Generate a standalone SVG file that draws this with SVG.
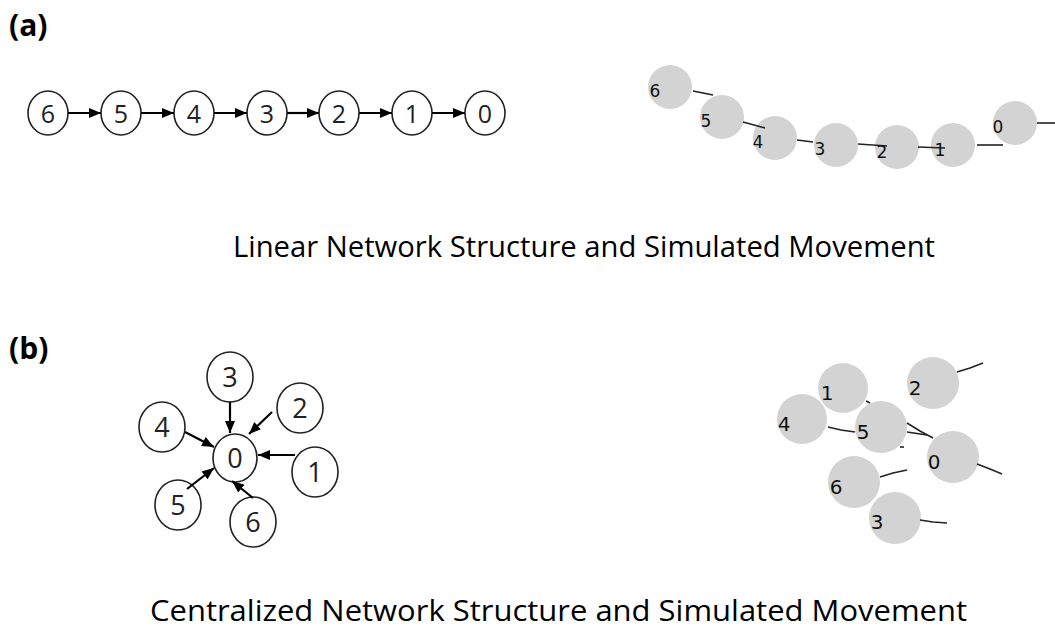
<svg xmlns="http://www.w3.org/2000/svg" width="1055" height="628" viewBox="0 0 1055 628">
<defs>
<marker id="ah" viewBox="0 0 12 10" refX="12" refY="5" markerWidth="12" markerHeight="10" markerUnits="userSpaceOnUse" orient="auto">
<path d="M0,0 L12,5 L0,10 Z" fill="#000"/>
</marker>
</defs>
<style>
.n{fill:#fff;stroke:#222;stroke-width:1.6}
.nt{font-family:"Open Sans","Noto Sans",sans-serif;font-size:25px;fill:#222;text-anchor:middle}
.nt2{font-family:"Open Sans","Noto Sans",sans-serif;font-size:27px;fill:#222;text-anchor:middle}
.e{stroke:#000;stroke-width:2.2;fill:none;marker-end:url(#ah)}
.g{fill:#d3d3d3}
.gt{font-family:"DejaVu Sans","Liberation Sans",sans-serif;font-size:17px;fill:#111;text-anchor:middle}
.gt2{font-family:"DejaVu Sans","Liberation Sans",sans-serif;font-size:20px;fill:#111;text-anchor:middle}
.m{stroke:#222;stroke-width:1.6;fill:none}
.cap{font-family:"Open Sans","Noto Sans",sans-serif;font-size:30px;fill:#000}
.lbl{font-family:"Open Sans","Noto Sans",sans-serif;font-size:30px;font-weight:bold;fill:#000}
</style>
<rect width="1055" height="628" fill="#fff"/>
<text class="lbl" x="9" y="36">(a)</text>
<text class="lbl" x="9" y="359">(b)</text>

<!-- (a) linear structure -->
<g id="a-n6"><ellipse class="n" cx="48" cy="113" rx="20" ry="22"/><text class="nt" x="48" y="123">6</text></g>
<g id="a-n5"><ellipse class="n" cx="121" cy="113" rx="20" ry="22"/><text class="nt" x="121" y="123">5</text></g>
<g id="a-n4"><ellipse class="n" cx="194" cy="113" rx="20" ry="22"/><text class="nt" x="194" y="123">4</text></g>
<g id="a-n3"><ellipse class="n" cx="267" cy="113" rx="20" ry="22"/><text class="nt" x="267" y="123">3</text></g>
<g id="a-n2"><ellipse class="n" cx="339" cy="113" rx="20" ry="22"/><text class="nt" x="339" y="123">2</text></g>
<g id="a-n1"><ellipse class="n" cx="412" cy="113" rx="20" ry="22"/><text class="nt" x="412" y="123">1</text></g>
<g id="a-n0"><ellipse class="n" cx="485" cy="113" rx="20" ry="22"/><text class="nt" x="485" y="123">0</text></g>

<!-- (b) centralized structure -->
<g id="b-n0"><ellipse class="n" cx="235" cy="458" rx="22" ry="24"/><text class="nt2" x="235" y="468">0</text></g>
<g id="b-n3"><ellipse class="n" cx="230" cy="377" rx="23" ry="25"/><text class="nt2" x="230" y="387">3</text></g>
<g id="b-n2"><ellipse class="n" cx="300" cy="408" rx="23" ry="25"/><text class="nt2" x="300" y="418">2</text></g>
<g id="b-n4"><ellipse class="n" cx="162" cy="427" rx="23" ry="25"/><text class="nt2" x="162" y="437">4</text></g>
<g id="b-n1"><ellipse class="n" cx="315" cy="472" rx="23" ry="25"/><text class="nt2" x="315" y="482">1</text></g>
<g id="b-n5"><ellipse class="n" cx="178" cy="505" rx="23" ry="25"/><text class="nt2" x="178" y="515">5</text></g>
<g id="b-n6"><ellipse class="n" cx="253" cy="522" rx="23" ry="25"/><text class="nt2" x="253" y="532">6</text></g>

<g id="connectors">
<line class="e" x1="68" y1="113" x2="101" y2="113"/>
<line class="e" x1="141" y1="113" x2="174" y2="113"/>
<line class="e" x1="214" y1="113" x2="247" y2="113"/>
<line class="e" x1="287" y1="113" x2="319" y2="113"/>
<line class="e" x1="359" y1="113" x2="392" y2="113"/>
<line class="e" x1="432" y1="113" x2="465" y2="113"/>
<line class="e" x1="230" y1="402" x2="230" y2="433"/>
<line class="e" x1="272" y1="412" x2="249" y2="434"/>
<line class="e" x1="185" y1="432" x2="214" y2="447"/>
<line class="e" x1="295" y1="455" x2="258" y2="455"/>
<line class="e" x1="187" y1="489" x2="214" y2="468"/>
<line class="e" x1="253" y1="498" x2="232" y2="481"/>
</g>

<!-- (a) simulated movement -->
<g id="sa-circles">
<circle class="g" cx="670" cy="87" r="22"/>
<circle class="g" cx="722" cy="117" r="22"/>
<circle class="g" cx="775" cy="138" r="22"/>
<circle class="g" cx="836" cy="145" r="22"/>
<circle class="g" cx="897" cy="147" r="22"/>
<circle class="g" cx="953" cy="145" r="22"/>
<circle class="g" cx="1015" cy="123" r="22"/>
</g>
<g id="sa-trails">
<polyline class="m" points="693,91 703,93 713,95"/>
<polyline class="m" points="743,122 754,125 765,128"/>
<polyline class="m" points="797,140 813,142"/>
<polyline class="m" points="858,144 887,146"/>
<polyline class="m" points="918,147 945,148"/>
<polyline class="m" points="977,145 1003,145"/>
<polyline class="m" points="1037,123 1055,123"/>
</g>
<g id="sa-labels">
<text class="gt" x="655" y="97">6</text>
<text class="gt" x="706" y="127">5</text>
<text class="gt" x="758" y="148">4</text>
<text class="gt" x="820" y="155">3</text>
<text class="gt" x="882" y="158">2</text>
<text class="gt" x="940" y="156">1</text>
<text class="gt" x="998" y="133">0</text>
</g>

<!-- (b) simulated movement -->
<g id="sb-circles">
<circle class="g" cx="843" cy="388" r="25"/>
<circle class="g" cx="933" cy="383" r="26"/>
<circle class="g" cx="802" cy="419" r="25"/>
<circle class="g" cx="881" cy="427" r="26"/>
<circle class="g" cx="953" cy="457" r="26"/>
<circle class="g" cx="854" cy="482" r="26"/>
<circle class="g" cx="895" cy="518" r="26"/>
</g>
<g id="sb-trails">
<polyline class="m" points="957,372 970,368 983,363"/>
<polyline class="m" points="828,427 841,430 855,432"/>
<polyline class="m" points="866,401 870,403"/>
<polyline class="m" points="900,447 904,447"/>
<polyline class="m" points="907,423 920,431 933,438"/>
<polyline class="m" points="907,432 927,435"/>
<polyline class="m" points="977,464 990,469 1002,474"/>
<polyline class="m" points="880,477 893,473 907,470"/>
<polyline class="m" points="920,520 933,522 947,523"/>
</g>
<g id="sb-labels">
<text class="gt2" x="827" y="400">1</text>
<text class="gt2" x="915" y="395">2</text>
<text class="gt2" x="784" y="431">4</text>
<text class="gt2" x="863" y="439">5</text>
<text class="gt2" x="934" y="469">0</text>
<text class="gt2" x="836" y="494">6</text>
<text class="gt2" x="877" y="529">3</text>
</g>

<text class="cap" x="233" y="257" textLength="702" lengthAdjust="spacingAndGlyphs">Linear Network Structure and Simulated Movement</text>
<text class="cap" x="150" y="621" textLength="817" lengthAdjust="spacingAndGlyphs">Centralized Network Structure and Simulated Movement</text>
</svg>
